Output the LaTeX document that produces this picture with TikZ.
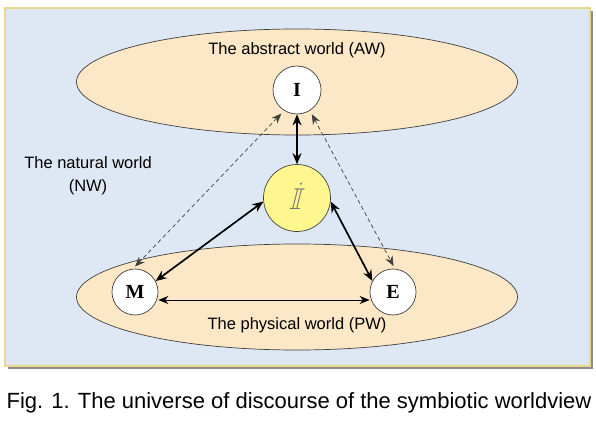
\documentclass[tikz,border=0pt]{standalone}
\usepackage{fontspec}
\usepackage{amssymb}
\setmainfont{Liberation Sans}
\newfontfamily\serifbf{Liberation Serif}
\usetikzlibrary{arrows.meta,shapes.geometric}
\definecolor{bgblue}{HTML}{DDE8F4}
\definecolor{framegold}{HTML}{E8D88A}
\definecolor{peach}{HTML}{FCE8C6}
\definecolor{yel}{HTML}{FFF68F}
\tikzset{
  world/.style={ellipse,draw=black!75,fill=peach,line width=0.7pt,minimum width=441pt,minimum height=106pt,inner sep=0pt},
  entity/.style={circle,draw=black!75,fill=white,line width=0.7pt,minimum size=48pt,inner sep=0pt,font=\serifbf\bfseries\fontsize{20}{20}\selectfont},
  bigent/.style={circle,draw=black!75,fill=yel,line width=0.7pt,minimum size=67pt,inner sep=0pt},
  lbl/.style={font=\fontsize{16.5}{23}\selectfont,inner sep=0pt},
  tip/.style={Stealth[length=11pt,width=9pt]},
  solidarr/.style={{Stealth[length=11pt,width=9pt]}-{Stealth[length=11pt,width=9pt]},line width=1.7pt},
  thinarr/.style={{Stealth[length=10pt,width=8pt]}-{Stealth[length=10pt,width=8pt]},line width=1pt},
  dasharr/.style={{Stealth[length=10pt,width=8pt]}-{Stealth[length=10pt,width=8pt]},line width=0.7pt,dash pattern=on 4pt off 3pt,draw=black!75}
}
\begin{document}
\begin{tikzpicture}[x=1pt,y=-1pt]
\useasboundingbox (0,0) rectangle (596,422);
% frame with shadow
\fill[black!45] (8,11) rectangle (593,369);
\draw[framegold,line width=1.5pt,fill=bgblue] (5,8) rectangle (590,366);
% worlds
\node[world] (aw) at (297,82) {};
\node[world] (pw) at (297,297) {};
\node[lbl] (awl) at (297,50) {The abstract world (AW)};
\node[lbl] (pwl) at (297,325) {The physical world (PW)};
\node[lbl,align=center] (nwl) at (88,176) {The natural world\\(NW)};
% entities
\node[entity] (I) at (297,90) {I};
\node[entity,minimum size=46pt] (M) at (135,292) {M};
\node[entity,minimum size=46pt] (E) at (393,292) {E};
\node[bigent] (II) at (297,198) {};
\node[xslant=0.25,inner sep=0pt,text=black!55] (IIs) at (298,196) {\fontsize{30}{30}\selectfont$\dot{\mathbb{I}}$};
% connectors
\draw[solidarr] (I) -- (II);
\draw[solidarr] (II.186) -- (M.28);
\draw[solidarr] (II.354) -- (E.152);
\draw[thinarr] ([yshift=-8pt]M.east) -- ([yshift=-8pt]E.west);
\draw[dasharr,shorten <=4pt,shorten >=3pt] (I.238) -- (M.95);
\draw[dasharr,shorten <=4pt,shorten >=3pt] (I.302) -- (E.85);
% caption
\node[font=\fontsize{22}{26}\selectfont,inner sep=0pt] (cap) at (299,403) {Fig. 1. The universe of discourse of the symbiotic worldview};
\end{tikzpicture}
\end{document}
